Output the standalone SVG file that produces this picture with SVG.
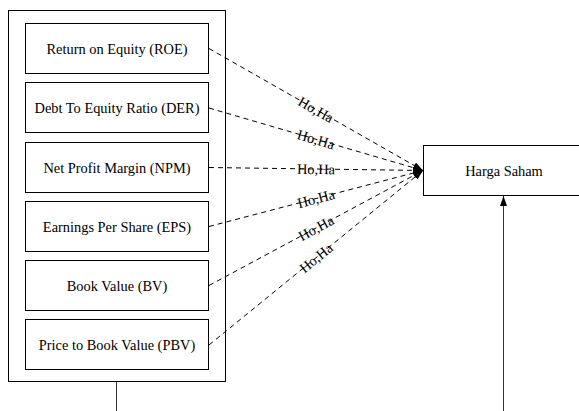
<svg xmlns="http://www.w3.org/2000/svg" width="579" height="411" viewBox="0 0 579 411">
<style>
.box{fill:#fff;stroke:#000;stroke-width:1}
text{font-family:'Liberation Serif','Times New Roman',serif;font-size:14.4px;fill:#000;text-anchor:middle}
.dash{stroke:#000;stroke-width:1;stroke-dasharray:5,4;fill:none}
.solid{stroke:#333;stroke-width:1;fill:none}
</style>
<defs>
<marker id="ah" markerUnits="userSpaceOnUse" markerWidth="11" markerHeight="8" refX="10" refY="3.5" orient="auto">
<path d="M0,0 L10,3.5 L0,7 z" fill="#000"/>
</marker>
</defs>
<rect x="0" y="0" width="579" height="411" fill="#fff"/>
<g id="group-box">
<rect class="box" x="8.5" y="10.5" width="217" height="371"/>
</g>
<g id="n-roe"><rect class="box" x="25.5" y="23.5" width="183" height="50"/><text x="117" y="53.5">Return on Equity (ROE)</text></g>
<g id="n-der"><rect class="box" x="25.5" y="82.5" width="183" height="50"/><text x="117" y="113">Debt To Equity Ratio (DER)</text></g>
<g id="n-npm"><rect class="box" x="25.5" y="142.5" width="183" height="50"/><text x="117" y="172.5">Net Profit Margin (NPM)</text></g>
<g id="n-eps"><rect class="box" x="25.5" y="201.5" width="183" height="50"/><text x="117" y="231.5">Earnings Per Share (EPS)</text></g>
<g id="n-bv"><rect class="box" x="25.5" y="260.5" width="183" height="50"/><text x="117" y="290.5">Book Value (BV)</text></g>
<g id="n-pbv"><rect class="box" x="25.5" y="319.5" width="183" height="50"/><text x="117" y="350">Price to Book Value (PBV)</text></g>
<g id="n-harga"><rect class="box" x="423.5" y="145.5" width="170" height="50"/><text x="504" y="176">Harga Saham</text></g>
<g id="connectors">
<line class="dash" x1="209" y1="48.5" x2="423" y2="170.5" marker-end="url(#ah)"/>
<line class="dash" x1="209" y1="108" x2="423" y2="170.5" marker-end="url(#ah)"/>
<line class="dash" x1="209" y1="167.5" x2="423" y2="170.5" marker-end="url(#ah)"/>
<line class="dash" x1="209" y1="226.5" x2="423" y2="170.5" marker-end="url(#ah)"/>
<line class="dash" x1="209" y1="285.5" x2="423" y2="170.5" marker-end="url(#ah)"/>
<line class="dash" x1="209" y1="345" x2="423" y2="170.5" marker-end="url(#ah)"/>
<text transform="translate(316,109.5) rotate(29.7)" dy="0.35em">Ho,Ha</text>
<text transform="translate(316,139.25) rotate(16.3)" dy="0.35em">Ho,Ha</text>
<text transform="translate(316,169) rotate(0.8)" dy="0.35em">Ho,Ha</text>
<text transform="translate(316,198.5) rotate(-14.7)" dy="0.35em">Ho,Ha</text>
<text transform="translate(316,228) rotate(-28.3)" dy="0.35em">Ho,Ha</text>
<text transform="translate(316,257.75) rotate(-39.2)" dy="0.35em">Ho,Ha</text>
<line class="solid" x1="116.5" y1="382" x2="116.5" y2="411"/>
<line class="solid" x1="503.5" y1="411" x2="503.5" y2="196" marker-end="url(#ah)"/>
</g>
</svg>
